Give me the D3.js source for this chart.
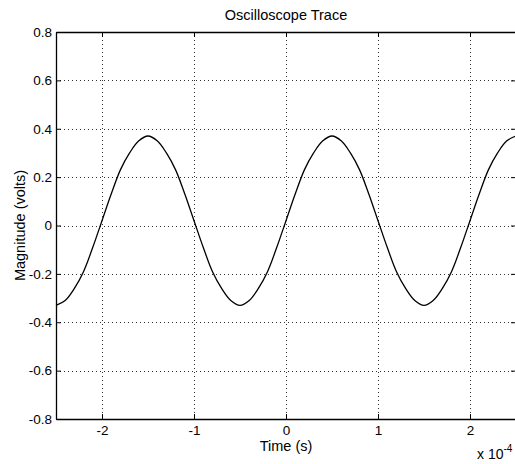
<!DOCTYPE html>
<html>
<head>
<meta charset="utf-8">
<script src="https://cdn.jsdelivr.net/npm/d3@7"></script>
<style>
  body { margin: 0; background: #fff; }
  text { font-family: "Liberation Sans", Arial, Helvetica, sans-serif; fill: #000; }
</style>
</head>
<body>
<div id="chart"></div>
<script>
const width = 515;
const height = 464;

// time in units of 1e-4 s
const timeE4 = [
  -2.5, -2.4, -2.3, -2.2, -2.1, -2.0, -1.9, -1.8, -1.7, -1.6,
  -1.5, -1.4, -1.3, -1.2, -1.1, -1.0, -0.9, -0.8, -0.7, -0.6,
  -0.5, -0.4, -0.3, -0.2, -0.1, 0.0, 0.1, 0.2, 0.3, 0.4,
  0.5, 0.6, 0.7, 0.8, 0.9, 1.0, 1.1, 1.2, 1.3, 1.4,
  1.5, 1.6, 1.7, 1.8, 1.9, 2.0, 2.1, 2.2, 2.3, 2.4, 2.5
];
const volts = [
  -0.33, -0.31, -0.26, -0.19, -0.09, 0.02, 0.13, 0.23, 0.30, 0.35,
  0.37, 0.35, 0.30, 0.23, 0.13, 0.02, -0.09, -0.19, -0.26, -0.31,
  -0.33, -0.31, -0.26, -0.19, -0.09, 0.02, 0.13, 0.23, 0.30, 0.35,
  0.37, 0.35, 0.30, 0.23, 0.13, 0.02, -0.09, -0.19, -0.26, -0.31,
  -0.33, -0.31, -0.26, -0.19, -0.09, 0.02, 0.13, 0.23, 0.30, 0.35, 0.37
];
const xTicks = [-2, -1, 0, 1, 2];
const yTicks = [-0.8, -0.6, -0.4, -0.2, 0, 0.2, 0.4, 0.6, 0.8];

const plotLeft = 56, plotRight = 516, plotTop = 32, plotBottom = 419;

const svg = d3.select("#chart").append("svg")
  .attr("width", width)
  .attr("height", height);

const x = d3.scaleLinear().domain([-2.5, 2.5]).range([plotLeft, plotRight]);
const y = d3.scaleLinear().domain([-0.8, 0.8]).range([plotBottom, plotTop]);

// dotted grid
const grid = svg.append("g")
  .attr("stroke", "#333")
  .attr("stroke-width", 1)
  .attr("stroke-dasharray", "1,3");

grid.selectAll("line.vx")
  .data(xTicks)
  .enter().append("line")
  .attr("x1", d => Math.round(x(d)) + 0.5)
  .attr("x2", d => Math.round(x(d)) + 0.5)
  .attr("y1", plotTop)
  .attr("y2", plotBottom);

grid.selectAll("line.hy")
  .data(yTicks.slice(1, -1))
  .enter().append("line")
  .attr("x1", plotLeft)
  .attr("x2", plotRight)
  .attr("y1", d => Math.round(y(d)) + 0.5)
  .attr("y2", d => Math.round(y(d)) + 0.5);

// the trace
const line = d3.line()
  .x((d, i) => x(timeE4[i]))
  .y(d => y(d))
  .curve(d3.curveCatmullRom);

svg.append("path")
  .datum(volts)
  .attr("fill", "none")
  .attr("stroke", "#000")
  .attr("stroke-width", 1.3)
  .attr("d", line);

// axes, ticks pointing inward
const fmtY = d => d === 0 ? "0" : d3.format(".1f")(d).replace("−", "-");

svg.append("g")
  .attr("transform", `translate(${plotLeft},0)`)
  .call(d3.axisLeft(y).tickValues(yTicks).tickFormat(fmtY)
    .tickSizeInner(-5).tickSizeOuter(0).tickPadding(4));

svg.append("g")
  .attr("transform", `translate(0,${plotBottom})`)
  .call(d3.axisBottom(x).tickValues(xTicks).tickFormat(d => String(d))
    .tickSizeInner(-5).tickSizeOuter(0).tickPadding(6));

svg.append("g")
  .attr("transform", `translate(0,${plotTop})`)
  .call(d3.axisTop(x).tickValues(xTicks).tickFormat("")
    .tickSizeInner(-5).tickSizeOuter(0));

svg.append("g")
  .attr("transform", `translate(${plotRight},0)`)
  .call(d3.axisRight(y).tickValues(yTicks).tickFormat("")
    .tickSizeInner(-5).tickSizeOuter(0));

svg.selectAll(".domain").attr("stroke", "#000").attr("stroke-width", 1.3);
svg.selectAll(".tick line").attr("stroke", "#000");
svg.selectAll(".tick text")
  .style("font-size", "13.5px")
  .style("font-family", "'Liberation Sans', Arial, sans-serif")
  .attr("fill", "#000");

// titles
svg.append("text")
  .attr("x", (plotLeft + plotRight) / 2)
  .attr("y", 20)
  .attr("text-anchor", "middle")
  .style("font-size", "14.5px")
  .text("Oscilloscope Trace");

svg.append("text")
  .attr("x", (plotLeft + plotRight) / 2)
  .attr("y", 451)
  .attr("text-anchor", "middle")
  .style("font-size", "14.5px")
  .text("Time (s)");

svg.append("text")
  .attr("transform", `translate(25,${y(0)}) rotate(-90)`)
  .attr("text-anchor", "middle")
  .style("font-size", "14.5px")
  .text("Magnitude (volts)");

// exponent note, kept just inside the window
const expo = svg.append("text")
  .attr("x", 477)
  .attr("y", 459)
  .style("font-size", "14px");
expo.append("tspan").text("x 10");
expo.append("tspan")
  .attr("dy", -7)
  .style("font-size", "10px")
  .text("-4");
</script>
</body>
</html>
